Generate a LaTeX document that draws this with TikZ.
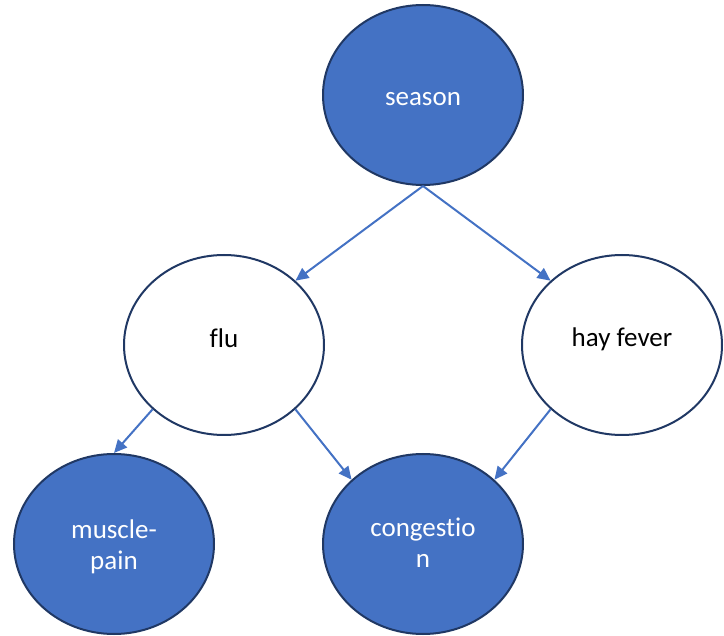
\documentclass[tikz,border=0pt]{standalone}
\usepackage{fontspec}
\setmainfont{Carlito}[Ligatures=NoCommon]
\usetikzlibrary{shapes.geometric,arrows.meta}
\definecolor{nodeblue}{HTML}{4472C4}
\definecolor{rimnavy}{HTML}{203864}
\definecolor{linkblue}{HTML}{4472C4}
% shift a label's ink vertically without changing its reported size
\newcommand{\liftby}[2]{\raisebox{#1}[\height][\depth]{#2}}
\newcommand{\twolines}[2]{\begin{tabular}{@{}c@{}}#1\\#2\end{tabular}}
\begin{document}
\begin{tikzpicture}[x=1pt,y=-1pt,
  varnode/.style={ellipse,draw=rimnavy,line width=2pt,minimum width=200pt,
    minimum height=180pt,inner sep=0pt,align=center,
    font=\fontsize{27}{30.5}\selectfont},
  observed/.style={varnode,fill=nodeblue,text=white},
  hidden/.style={varnode,fill=white,text=black},
  link/.style={draw=linkblue,line width=2pt,
    -{Triangle[length=13pt,width=12pt]}}]
\useasboundingbox (0,0) rectangle (724,636);
\node[observed] (season) at (423,95) {\liftby{-4pt}{season}};
\node[hidden] (flu) at (224,345) {\liftby{7pt}{flu}};
\node[hidden] (hay) at (622,345) {\liftby{6pt}{hay fever}};
\node[observed] (muscle) at (114,544) {\liftby{-4pt}{\twolines{muscle-}{pain}}};
\node[observed] (cong) at (423,544) {\liftby{-2pt}{\twolines{congestio}{n}}};
\draw[link] (season.south) -- (flu.42);
\draw[link] (season.south) -- (hay.138);
\draw[link] (flu.222) -- (muscle.north);
\draw[link] (flu.318) -- (cong.138);
\draw[link] (hay.222) -- (cong.42);
\end{tikzpicture}
\end{document}
